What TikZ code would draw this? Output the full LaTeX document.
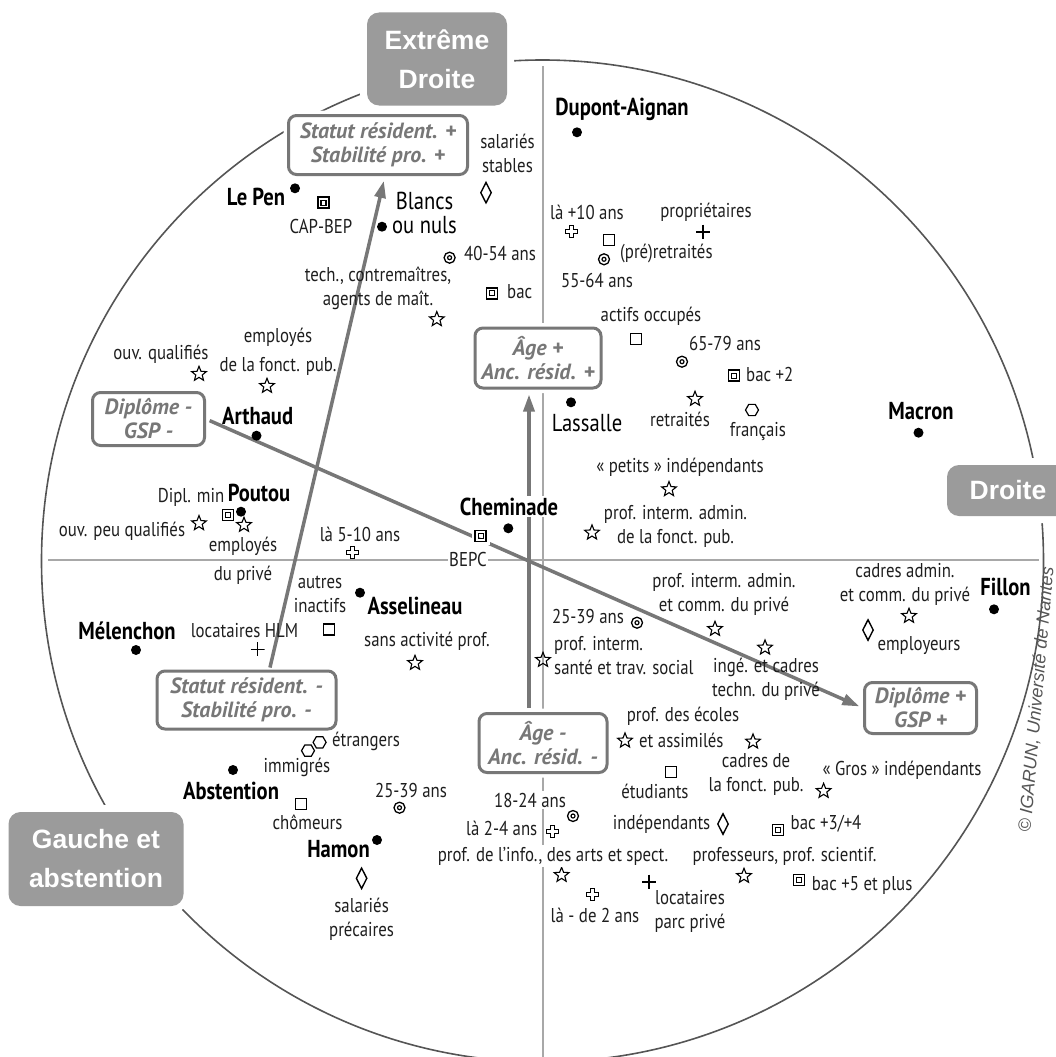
\documentclass[tikz,border=0pt]{standalone}
\usepackage{fontspec}
\setmainfont{PT Sans}[FakeStretch=0.84]
\newfontfamily\boxfont{PT Sans}[FakeStretch=1.0]
\newfontfamily\arialfont{Liberation Sans}
\usetikzlibrary{shapes.geometric,arrows.meta}

\definecolor{gristrait}{HTML}{777777}
\definecolor{grisfond}{HTML}{9B9B9B}
\definecolor{grisaxe}{HTML}{A8A8A8}
\definecolor{griscercle}{HTML}{555555}
\definecolor{encre}{HTML}{1E1E1E}

\tikzset{
  lab/.style={font=\fontsize{20}{24}\selectfont, text=encre, inner sep=0pt, align=center},
  nom/.style={font=\bfseries\fontsize{24.5}{26}\selectfont, text=black, inner sep=0pt},
  nomr/.style={font=\fontsize{24.5}{24}\selectfont, text=black, inner sep=0pt, align=center},
  halo/.style={fill=white, inner sep=1.5pt},
  axe/.style={draw=gristrait, line width=3pt, rounded corners=8pt, fill=white, text=gristrait,
    font=\boxfont\bfseries\itshape\fontsize{22}{24}\selectfont, align=center, inner sep=0pt,
    preaction={draw=white, fill=white, line width=10pt}},
  pole/.style={fill=grisfond, rounded corners=12pt, text=white,
    font=\arialfont\bfseries\fontsize{26.5}{39}\selectfont, align=center, inner sep=0pt,
    preaction={draw=white, fill=white, line width=14pt}},
  fleche/.style={draw=gristrait, line width=3.5pt, -{Triangle[length=17pt, width=11pt]}},
  point/.style={circle, fill=black, inner sep=0pt, minimum size=10pt},
  etoile/.style={star, star points=5, star point ratio=2.3, draw=black, line width=1.1pt,
    inner sep=0pt, minimum size=15.5pt},
  losange/.style={diamond, draw=black, line width=1.4pt, inner sep=0pt,
    minimum width=11pt, minimum height=21pt},
  carre/.style={rectangle, draw=black, line width=1.4pt, inner sep=0pt, minimum size=11pt},
  dcarre/.style={carre, line width=1.6pt, path picture={\draw[line width=1.3pt]
    ([shift={(-2.5pt,-2.5pt)}]path picture bounding box.center) rectangle
    ([shift={(2.5pt,2.5pt)}]path picture bounding box.center);}},
  cible/.style={circle, draw=black, line width=1.3pt, inner sep=0pt, minimum size=11pt,
    path picture={\draw[line width=1.2pt] (path picture bounding box.center) circle[radius=2pt];}},
  croix/.style={rectangle, inner sep=0pt, minimum size=14pt,
    path picture={\draw[line width=1.6pt] (path picture bounding box.north) -- (path picture bounding box.south)
      (path picture bounding box.west) -- (path picture bounding box.east);}},
  croixc/.style={rectangle, inner sep=0pt, minimum size=15pt,
    path picture={\draw[line width=0.9pt, shift={(path picture bounding box.center)}]
      (-2pt,-6pt) -- (2pt,-6pt) -- (2pt,-2pt) -- (6pt,-2pt) -- (6pt,2pt) -- (2pt,2pt) -- (2pt,6pt)
      -- (-2pt,6pt) -- (-2pt,2pt) -- (-6pt,2pt) -- (-6pt,-2pt) -- (-2pt,-2pt) -- cycle;}},
  hexa/.style={regular polygon, regular polygon sides=6, draw=black, line width=1.2pt,
    inner sep=0pt, minimum size=13pt}
}

\begin{document}
\begin{tikzpicture}[x=1pt,y=-1pt]
\useasboundingbox (0,0) rectangle (1055,1057);

% Cercle et axes
\draw[griscercle, line width=1.6pt] (542.5,561) circle[radius=501pt];
\draw[grisaxe, line width=1.1pt] (543,66) -- (543,1057);
\draw[grisaxe, line width=1.1pt] (48,560) -- (1039,560);

% Poles
\node[pole, minimum width=140pt, minimum height=93pt] (extdroite) at (437,59) {Extrême\\Droite};
\node[pole, minimum width=122pt, minimum height=51pt] (droite) at (1008,490.5) {Droite};
\node[pole, minimum width=175pt, minimum height=94pt] (gauche) at (96,859) {Gauche et\\abstention};

% Axes d'interpretation
\node[axe, minimum width=179pt, minimum height=59pt] (statplus) at (378,145) {Statut résident. +\\Stabilité pro. +};
\node[axe, minimum width=179pt, minimum height=58pt] (statmoins) at (246.5,700) {Statut résident. -\\Stabilité pro. -};
\node[axe, minimum width=112pt, minimum height=53pt] (dipmoins) at (148.5,419) {Diplôme -\\GSP -};
\node[axe, minimum width=112pt, minimum height=51pt] (dipplus) at (920.5,708) {Diplôme +\\GSP +};
\node[axe, minimum width=126pt, minimum height=60pt] (ageplus) at (538,358) {Âge +\\Anc. résid. +};
\node[axe, minimum width=128pt, minimum height=59pt] (agemoins) at (543,743) {Âge -\\Anc. résid. -};

\draw[fleche, shorten <=2pt, shorten >=5pt] ([xshift=23pt]statmoins.north) -- ([xshift=7pt]statplus.south);
\draw[fleche, shorten <=4pt, shorten >=5pt] ([xshift=-14pt]agemoins.north) -- ([xshift=-9pt]ageplus.south);
\draw[fleche, shorten <=4pt, shorten >=4pt] (dipmoins.east) -- (dipplus.west);

% Candidats
\foreach \n/\x/\y in {plepen/295/188.3, pblancs/382/226.7, pdupont/577/132.3, parthaud/256.5/435.7,
  ppoutou/241/511.7, pcheminade/508.3/528.3, plassalle/571/402.3, pmacron/918.5/432.7,
  pfillon/994/609.3, pmelenchon/136/650, passelineau/360/592.7, pabstention/233/770, phamon/377/840}
  \node[point] (\n) at (\x,\y) {};

% CSP
\foreach \n/\x/\y in {etech/436.8/319.3, eouvq/199/374, eempfp/267/386, eouvpq/199/523.3,
  eemppr/244/525, eretr/695/399, epetits/669/489.3, epifp/592/532.7, ecadpr/909/616,
  epicp/715/629, esante/543/660, einge/765/647.7, esansact/415/663, eecoles/625/740.7,
  ecadfp/753/741.7, egros/823.6/791, einfo/561.6/875, eprofs/744/876}
  \node[etoile] (\n) at (\x,\y) {};

% Stabilite pro.
\foreach \n/\x/\y in {lstables/486/192.7, lemployeurs/868/630, lindep/723/824, lprecaires/361.6/878.3}
  \node[losange] (\n) at (\x,\y) {};

% Activite
\foreach \n/\x/\y in {qpreretr/609/240, qactifs/636/339, qautres/329/629.3, qetud/671/771.7, qchom/301/804}
  \node[carre] (\n) at (\x,\y) {};

% Diplomes
\foreach \n/\x/\y in {bcapbep/323.5/202.7, bbac/492/293.3, bbacdeux/734/375.7, bmin/228/515,
  bbactrois/778/830, bbaccinq/799/880}
  \node[dcarre] (\n) at (\x,\y) {};
\node[dcarre, preaction={draw=white, line width=7pt}] (bbepc) at (480.7,536) {};

% Ages
\foreach \n/\x/\y in {aquarante/449.6/257.7, acinquante/604/259.3, asoixante/682/361.7,
  avingtcinqd/637/622.7, avingtcinqg/399.5/807.7, adixhuit/573/816}
  \node[cible] (\n) at (\x,\y) {};

% Logement et anciennete
\foreach \n/\x/\y in {cproprio/703/231.7, chlm/257.6/649.3, cparc/649/881.7}
  \node[croix] (\n) at (\x,\y) {};
\foreach \n/\x/\y in {rdix/571/231.7, rcinq/352/552.7, rdeux/552/831.7, rmoins/592.7/894.3}
  \node[croixc] (\n) at (\x,\y) {};

% Nationalite
\node[hexa] (hfr) at (752,410) {};
\node[hexa] (hetr) at (319.6,742.3) {};
\node[hexa] (himm) at (308,750.7) {};

% Noms
\node[nom] (tlepen) at (256,196.7) {Le Pen};
\node[nom] (tdupont) at (622,109.3) {Dupont-Aignan};
\node[nom] (tarthaud) at (257.6,416) {Arthaud};
\node[nom] (tpoutou) at (259,493.3) {Poutou};
\node[nom, halo] (tcheminade) at (509,506.7) {Cheminade};
\node[nom] (tmacron) at (921,411) {Macron};
\node[nom] (tfillon) at (1005.5,587.3) {Fillon};
\node[nom] (tmelenchon) at (127,630.7) {Mélenchon};
\node[nom] (tasselineau) at (415,606) {Asselineau};
\node[nom] (tabstention) at (231,791) {Abstention};
\node[nom] (thamon) at (338.5,849.3) {Hamon};
\node[nomr] (tblancs) at (424.5,213) {Blancs\\ou nuls};
\node[nomr] (tlassalle) at (587,422.7) {Lassalle};

% Etiquettes
\node[lab] (tcapbep) at (321,226) {CAP-BEP};
\node[lab] (tstables) at (507.5,153.7) {salariés\\stables};
\node[lab, anchor=west] (tquarante) at (464,253.3) {40-54 ans};
\node[lab] (ttech) at (378,288) {tech., contremaîtres,\\agents de maît.};
\node[lab, anchor=west] (tbac) at (507,292) {bac};
\node[lab] (tempfp) at (278,351.5) {employés\\[5pt]de la fonct. pub.};
\node[lab] (touvq) at (161,354) {ouv. qualifiés};
\node[lab] (tmin) at (191,497.3) {Dipl. min};
\node[lab] (touvpq) at (122,531) {ouv. peu qualifiés};
\node[lab] (temppr) at (243,560.5) {employés\\[5pt]du privé};
\node[lab] (tcinq) at (360,534) {là 5-10 ans};
\node[lab, halo] (tbepc) at (468,559) {BEPC};
\node[lab] (tautres) at (320,594.7) {autres\\inactifs};
\node[lab] (thlm) at (244.5,630.7) {locataires HLM};
\node[lab] (tsansact) at (427,641.7) {sans activité prof.};
\node[lab] (tdix) at (587,212.3) {là +10 ans};
\node[lab] (tproprio) at (706,212.3) {propriétaires};
\node[lab, anchor=west] (tpreretr) at (620,253.3) {(pré)retraités};
\node[lab] (tcinquante) at (597,280) {55-64 ans};
\node[lab] (tactifs) at (651,316) {actifs occupés};
\node[lab] (tsoixante) at (725,343.3) {65-79 ans};
\node[lab, anchor=west] (tbacdeux) at (746,374.3) {bac +2};
\node[lab] (tretr) at (680,419.3) {retraités};
\node[lab] (tfr) at (758,431.7) {français};
\node[lab] (tpetits) at (680,467.7) {« petits » indépendants};
\node[lab] (tpifp) at (675.5,526.7) {prof. interm. admin.\\de la fonct. pub.};
\node[lab] (tcadpr) at (905,584.7) {cadres admin.\\et comm. du privé};
\node[lab] (temployeurs) at (919,645.7) {employeurs};
\node[lab] (tpicp) at (724,594) {prof. interm. admin.\\et comm. du privé};
\node[lab] (tvingtcinqd) at (588,616) {25-39 ans};
\node[lab, align=left, anchor=west] (tsante) at (554,656) {prof. interm.\\santé et trav. social};
\node[lab] (tinge) at (766,679) {ingé. et cadres\\techn. du privé};
\node[lab] (tecoles) at (683,716.7) {prof. des écoles};
\node[lab, anchor=west] (tassim) at (639,740.7) {et assimilés};
\node[lab] (tcadfp) at (756,774) {cadres de\\la fonct. pub.};
\node[lab] (tetud) at (655,791) {étudiants};
\node[lab] (tgros) at (902,770.7) {« Gros » indépendants};
\node[lab, halo] (tdixhuit) at (530,800) {18-24 ans};
\node[lab] (tdeux) at (501.7,828.3) {là 2-4 ans};
\node[lab] (tindep) at (661.6,824) {indépendants};
\node[lab, anchor=west] (tbactrois) at (790.5,824) {bac +3/+4};
\node[lab, halo] (tinfo) at (553,856) {prof. de l'info., des arts et spect.};
\node[lab] (tprofs) at (784.5,856) {professeurs, prof. scientif.};
\node[lab, anchor=west] (tbaccinq) at (811.7,885) {bac +5 et plus};
\node[lab] (tmoins) at (595,915) {là - de 2 ans};
\node[lab] (tparc) at (690,911) {locataires\\parc privé};
\node[lab, anchor=west] (tetr) at (332,741.7) {étrangers};
\node[lab] (timm) at (297,767.3) {immigrés};
\node[lab] (tvingtcinqg) at (411,790) {25-39 ans};
\node[lab] (tchom) at (307.5,822.7) {chômeurs};
\node[lab] (tprecaires) at (361.6,919.2) {salariés\\précaires};

% Source
\node[rotate=85, anchor=west, inner sep=0pt, text=griscercle,
  font=\arialfont\itshape\fontsize{18}{18}\selectfont] (source) at (1025,832) {© IGARUN, Université de Nantes};
\end{tikzpicture}
\end{document}
